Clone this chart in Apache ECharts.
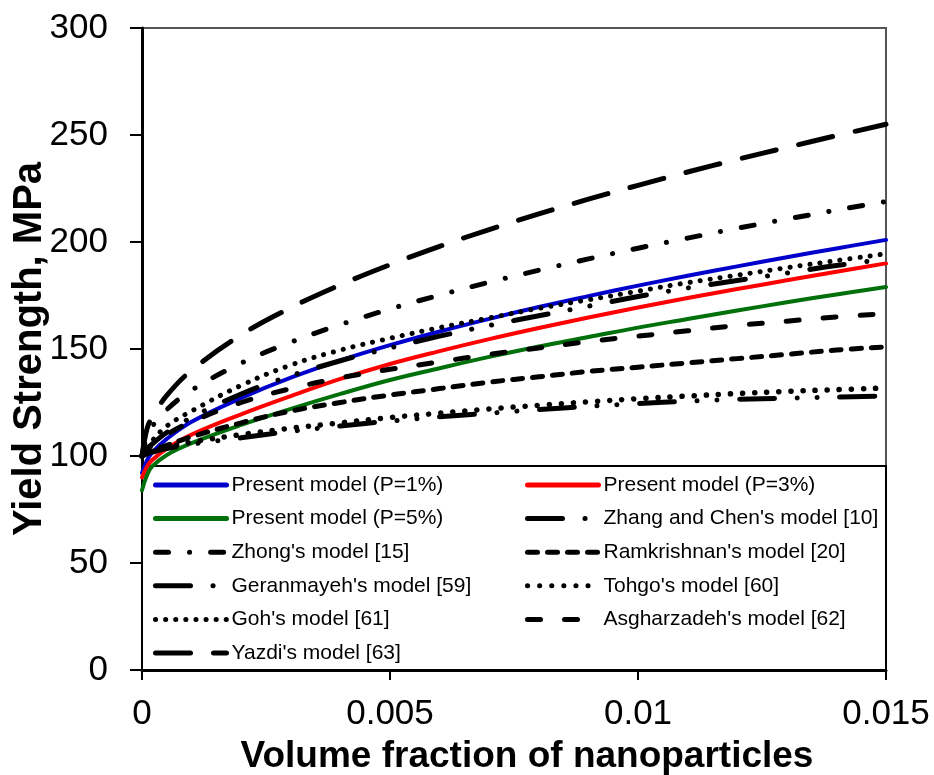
<!DOCTYPE html>
<html>
<head>
<meta charset="utf-8">
<script src="https://cdn.jsdelivr.net/npm/echarts@6/dist/echarts.min.js"></script>
<style>
  html, body { margin: 0; padding: 0; background: #fff; }
  #chart { width: 934px; height: 775px; }
</style>
</head>
<body>
<div id="chart"></div>
<script>
// volume fraction (x)
const fractions = [0, 0.0001, 0.0002, 0.0005, 0.001, 0.002, 0.003, 0.004, 0.005, 0.006, 0.007, 0.008, 0.009, 0.01, 0.011, 0.012, 0.013, 0.014, 0.015];

// yield strength, MPa
const presentP1 = [92, 98, 101.5, 108, 116, 127.1, 136.6, 144.7, 151.8, 158.2, 164.1, 169.6, 174.7, 179.6, 184.2, 188.6, 192.9, 197, 201];
const presentP3 = [90, 95, 98, 103.5, 110, 119.5, 128, 136, 143, 149, 154.6, 159.8, 164.7, 169.4, 173.8, 178, 182.1, 186.1, 190];
const presentP5 = [84, 91, 95, 100.5, 106, 114.5, 122, 129, 135.5, 141, 146.3, 151.2, 155.6, 160, 164, 168, 171.8, 175.5, 179];
const zhangChen = [100, 103, 105.5, 111, 118, 129, 137.5, 144.5, 150.5, 156, 161, 165.5, 170, 174.5, 178.5, 182, 185.5, 189, 192];
const zhong = [100, 109.7, 113.7, 121.7, 130.7, 143.4, 153.2, 161.4, 168.7, 175.2, 181.2, 186.8, 192.1, 197.1, 201.8, 206.4, 210.7, 214.9, 218.9];
const ramkrishnan = [100, 101.5, 102.5, 105, 109, 115.5, 121, 125, 128.5, 131.5, 134.5, 137, 139.5, 141.5, 143.5, 145.5, 147.5, 149.5, 151];
const geranmayeh = [100, 101, 101.8, 103.5, 105.5, 108.5, 111.5, 114, 116.3, 118.3, 120, 121.7, 123.2, 124.5, 125.6, 126.5, 127, 127.5, 128];
const tohgo = [100, 101, 102, 104, 106.5, 110, 113, 115.5, 118, 120, 122, 123.7, 125.3, 126.8, 128, 129.2, 130.2, 131, 131.8];
const goh = [100, 104, 107, 114, 121, 133, 142.5, 149.5, 155, 160, 164.5, 169, 173, 177, 181, 184.5, 188, 191.3, 194.5];
const asgharzadeh = [100, 103, 105, 110, 116, 125, 131.5, 136.5, 140.5, 144, 147.5, 150.5, 153.5, 156, 158.5, 161, 163, 165, 166.5];
const yazdi = [100, 112.7, 117.9, 128.3, 140, 156.6, 169.3, 180, 189.4, 198, 205.8, 213.1, 220, 226.5, 232.7, 238.6, 244.2, 249.7, 255];

const yTicks = { min: 0, max: 300, interval: 50 };
const xTicks = { min: 0, max: 0.015, interval: 0.005 };
const legendTop = 95.3; // y value of the legend box top edge

const font = 'Arial, "Liberation Sans", sans-serif';

function pairs(values) {
    return fractions.map((x, i) => [x, values[i]]);
}

function makeLine(name, values, color, width, dash) {
    return {
        name: name,
        type: 'line',
        data: pairs(values),
        showSymbol: false,
        symbol: 'none',
        smooth: 0.4,
        z: 3,
        itemStyle: { color: color },
        lineStyle: {
            color: color,
            width: width,
            type: dash || 'solid',
            cap: 'round',
            join: 'round'
        }
    };
}

const longDashDotDot = [35, 22.5, 0.1, 20, 0.1, 22.5];

const series = [
    makeLine('Present model (P=1%)', presentP1, '#0000cc', 4),
    makeLine('Present model (P=3%)', presentP3, '#ff0000', 4),
    makeLine('Present model (P=5%)', presentP5, '#00700a', 4),
    makeLine("Zhang and Chen's model [10]", zhangChen, '#000', 5, longDashDotDot),
    makeLine("Zhong's model [15]", zhong, '#000', 5, [13, 21, 0.1, 21]),
    makeLine("Ramkrishnan's model [20]", ramkrishnan, '#000', 5, [10, 10]),
    makeLine("Geranmayeh's model [59]", geranmayeh, '#000', 5, longDashDotDot),
    makeLine("Tohgo's model [60]", tohgo, '#000', 5.5, [0.1, 12]),
    makeLine("Goh's model [61]", goh, '#000', 5, [0.1, 10]),
    makeLine("Asgharzadeh's model [62]", asgharzadeh, '#000', 5, [13, 24]),
    makeLine("Yazdi's model [63]", yazdi, '#000', 5, [35, 23])
];

const leftNames = ['Present model (P=1%)', 'Present model (P=5%)', "Zhong's model [15]",
    "Geranmayeh's model [59]", "Goh's model [61]", "Yazdi's model [63]"];
const rightNames = ['Present model (P=3%)', "Zhang and Chen's model [10]", "Ramkrishnan's model [20]",
    "Tohgo's model [60]", "Asgharzadeh's model [62]"];

function makeLegend(names, left) {
    return {
        data: names,
        orient: 'vertical',
        left: left,
        top: 473,
        itemWidth: 71,
        itemHeight: 14,
        itemGap: 9.6,
        padding: 0,
        selectedMode: false,
        itemStyle: { opacity: 0 },
        lineStyle: { width: 5 },
        textStyle: {
            fontFamily: font,
            fontSize: 21,
            lineHeight: 24,
            color: '#000'
        }
    };
}

const chart = echarts.init(document.getElementById('chart'), null, { renderer: 'canvas' });

const option = {
    animation: false,
    backgroundColor: '#fff',
    grid: {
        left: 142,
        right: 48,
        top: 28,
        bottom: 105,
        outerBoundsMode: 'none',
        containLabel: false,
        show: true,
        borderColor: '#555',
        borderWidth: 2
    },
    legend: [makeLegend(leftNames, 153), makeLegend(rightNames, 525)],
    xAxis: {
        type: 'value',
        min: xTicks.min,
        max: xTicks.max,
        interval: xTicks.interval,
        name: 'Volume fraction of nanoparticles',
        nameLocation: 'middle',
        nameGap: 68,
        nameMoveOverlap: false,
        nameTextStyle: {
            fontFamily: font, fontSize: 37, fontWeight: 'bold', color: '#000',
            padding: [0, 0, 0, 26]
        },
        axisLine: { onZero: false, lineStyle: { color: '#000', width: 3 } },
        axisTick: { show: true, length: 10, lineStyle: { color: '#000', width: 2 } },
        axisLabel: { fontFamily: font, fontSize: 35, color: '#000', margin: 27 },
        splitLine: { show: false }
    },
    yAxis: {
        type: 'value',
        min: yTicks.min,
        max: yTicks.max,
        interval: yTicks.interval,
        name: 'Yield Strength, MPa',
        nameLocation: 'middle',
        nameGap: 92,
        nameMoveOverlap: false,
        nameTextStyle: { fontFamily: font, fontSize: 40, fontWeight: 'bold', color: '#000' },
        axisLine: { onZero: false, lineStyle: { color: '#000', width: 3 } },
        axisTick: { show: true, length: 12, lineStyle: { color: '#000', width: 2 } },
        axisLabel: { fontFamily: font, fontSize: 35, color: '#000', margin: 34 },
        splitLine: { show: false }
    },
    series: series
};

chart.setOption(option);

// white legend box with black border, sitting under the curves
const topLeft = chart.convertToPixel({ gridIndex: 0 }, [xTicks.min, legendTop]);
const bottomRight = chart.convertToPixel({ gridIndex: 0 }, [xTicks.max, yTicks.min]);
chart.setOption({
    graphic: [{
        type: 'rect',
        z: 1,
        shape: {
            x: topLeft[0],
            y: topLeft[1],
            width: bottomRight[0] - topLeft[0],
            height: bottomRight[1] - topLeft[1]
        },
        style: { fill: '#fff', stroke: '#000', lineWidth: 2 }
    }]
});
</script>
</body>
</html>
